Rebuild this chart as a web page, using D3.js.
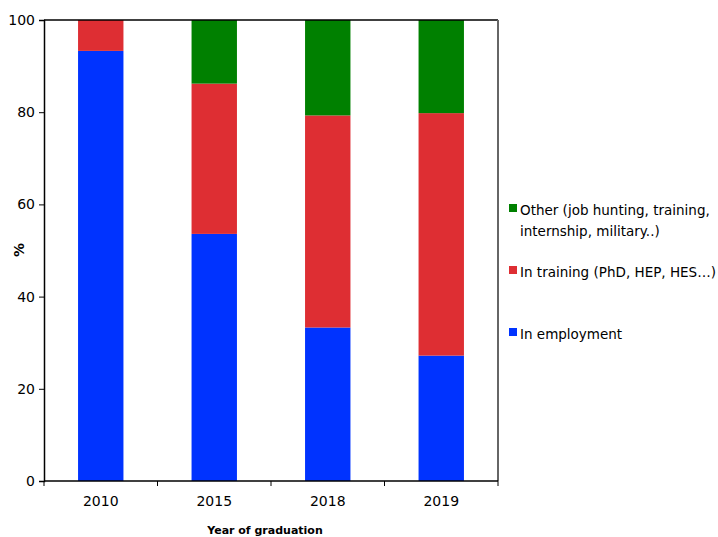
<!DOCTYPE html>
<html>
<head>
<meta charset="utf-8">
<script src="https://cdn.jsdelivr.net/npm/d3@7"></script>
<style>
body { margin: 0; background: #fff; }
text { font-family: "DejaVu Sans", Verdana, sans-serif; }
</style>
</head>
<body>
<svg id="chart" width="718" height="537"></svg>
<script>
// data
var years = ["2010", "2015", "2018", "2019"]
var employment = [93.3, 53.6, 33.3, 27.2]
var training = [6.7, 32.6, 46.0, 52.6]
var other = [0.0, 13.8, 20.7, 20.2]
var yTicks = [0, 20, 40, 60, 80, 100]

var colors = ["#0033ff", "#de2e33", "#008000"]

var svg = d3.select("#chart")
var m = { left: 44, top: 20, right: 498, bottom: 481 }

var x = d3.scaleBand().domain(years).range([m.left, m.right]).paddingInner(0.6).paddingOuter(0.3)
var y = d3.scaleLinear().domain([0, 100]).range([m.bottom, m.top])

var rows = years.map(function (yr, i) {
        return { year: yr, e: employment[i], t: training[i], o: other[i] }
})
var stack = d3.stack().keys(["e", "t", "o"])(rows)

// bars
svg.append("g").selectAll("g")
        .data(stack)
        .enter().append("g")
        .attr("fill", function (d, i) { return colors[i] })
        .selectAll("rect")
        .data(function (d) { return d })
        .enter().append("rect")
        .attr("x", function (d) { return x(d.data.year) })
        .attr("width", x.bandwidth())
        .attr("y", function (d) { return y(d[1]) })
        .attr("height", function (d) { return y(d[0]) - y(d[1]) })

// frame: top black, right grey
svg.append("line").attr("x1", m.left).attr("x2", m.right).attr("y1", m.top).attr("y2", m.top)
        .attr("stroke", "#000").attr("stroke-width", 1.5)
svg.append("line").attr("x1", m.right).attr("x2", m.right).attr("y1", m.top).attr("y2", m.bottom)
        .attr("stroke", "#666").attr("stroke-width", 2)

// y axis
var yAxis = svg.append("g")
        .attr("transform", "translate(" + m.left + ",0)")
        .call(d3.axisLeft(y).tickValues(yTicks).tickSize(5).tickPadding(4))
yAxis.select(".domain").attr("stroke-width", 1.5)
yAxis.selectAll("text").attr("font-size", 14).attr("fill", "#000")
        .style("font-family", "DejaVu Sans, Verdana, sans-serif")

// x axis: ticks on the category boundaries
var xAxis = svg.append("g")
        .attr("transform", "translate(0," + m.bottom + ")")
var bounds = d3.range(years.length + 1).map(function (i) { return m.left + i * (m.right - m.left) / years.length })
xAxis.append("line").attr("x1", m.left).attr("x2", m.right).attr("stroke", "#000").attr("stroke-width", 1.5)
xAxis.selectAll("line.tick").data(bounds).enter().append("line")
        .attr("class", "tick")
        .attr("x1", function (d) { return d }).attr("x2", function (d) { return d })
        .attr("y1", 0).attr("y2", 5).attr("stroke", "#000")
xAxis.selectAll("text").data(years).enter().append("text")
        .attr("x", function (d) { return x(d) + x.bandwidth() / 2 })
        .attr("y", 25)
        .attr("text-anchor", "middle")
        .attr("font-size", 14)
        .text(function (d) { return d })

// axis titles
svg.append("text")
        .attr("transform", "translate(24,250) rotate(-90)")
        .attr("text-anchor", "middle")
        .attr("font-size", 14).attr("font-weight", "bold")
        .text("%")
svg.append("text")
        .attr("x", 265).attr("y", 534)
        .attr("text-anchor", "middle")
        .attr("font-size", 11).attr("font-weight", "bold")
        .text("Year of graduation")

// legend
var legend = [
        { c: colors[2], lines: ["Other (job hunting, training,", "internship, military..)"], y: 210 },
        { c: colors[1], lines: ["In training (PhD, HEP, HES\u2026)"], y: 272 },
        { c: colors[0], lines: ["In employment"], y: 334 }
]
var lg = svg.append("g").selectAll("g").data(legend).enter().append("g")
lg.append("rect")
        .attr("x", 509).attr("y", function (d) { return d.y - 6 })
        .attr("width", 8).attr("height", 8)
        .attr("fill", function (d) { return d.c })
lg.each(function (d) {
        var g = d3.select(this)
        d.lines.forEach(function (s, i) {
                g.append("text")
                        .attr("x", 520).attr("y", d.y + 5 + i * 21)
                        .attr("font-size", 13.5)
                        .attr("textLength", i === 0 && d.lines.length === 1 && s.length > 20 ? 196 : null)
                        .attr("lengthAdjust", "spacingAndGlyphs")
                        .text(s)
        })
})
</script>
</body>
</html>
